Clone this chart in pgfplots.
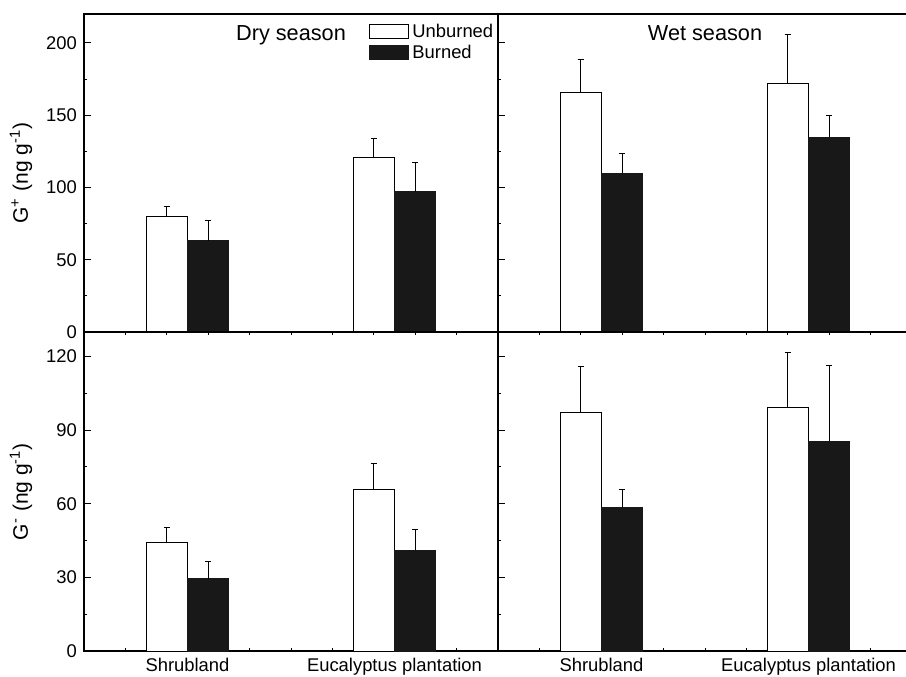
\documentclass[border=0pt]{standalone}
\usepackage{fontspec}
\setmainfont{Liberation Sans}
\usepackage{pgfplots}
\usepackage{pgfplotstable}
\pgfplotsset{compat=1.18}

% x: 2,3 = Shrubland (Unburned, Burned); 7,8 = Eucalyptus plantation
\pgfplotstableread{
x y e
2 80 7
7 121 13
}\dryGpU
\pgfplotstableread{
x y e
3 63 14
8 97 20
}\dryGpB
\pgfplotstableread{
x y e
2 165.6 22.6
7 171.6 34
}\wetGpU
\pgfplotstableread{
x y e
3 109.8 13.6
8 134.7 15
}\wetGpB
\pgfplotstableread{
x y e
2 44.2 6.1
7 66 10.5
}\dryGmU
\pgfplotstableread{
x y e
3 29.4 7.1
8 41 8.5
}\dryGmB
\pgfplotstableread{
x y e
2 97 19
7 99.4 22.2
}\wetGmU
\pgfplotstableread{
x y e
3 58.5 7.5
8 85.5 30.8
}\wetGmB

\definecolor{barblack}{HTML}{181818}

\pgfplotsset{
  panel/.style={
    scale only axis, width=207pt,
    xmin=0, xmax=10, ymin=0,
    xtick=\empty, minor xtick={0,...,10},
    major x tick style={draw=none},
    tick align=inside,
    ytick pos=left,
    minor y tick num=1,
    major tick length=3.5pt, minor tick length=1.6pt,
    axis line style={line width=0.55pt},
    tick style={black, line width=0.5pt},
    /pgf/number format/assume math mode=true,
    tick label style={font=\fontsize{9.2}{11}\selectfont},
    every axis y label/.style={at={(axis description cs:-0.108,0.5)}, rotate=90, anchor=south, font=\fontsize{10.5}{12}\selectfont},
    clip=false,
  },
  ubar/.style={ybar, bar width=1, bar shift=0pt, fill=white, draw=black, line width=0.5pt,
    error bars/.cd, y dir=plus, y explicit, error bar style={line width=0.5pt, black}, error mark options={rotate=90, mark size=1.6pt, line width=0.5pt, black}},
  bbar/.style={ybar, bar width=1, bar shift=0pt, fill=barblack, draw=barblack, line width=0.5pt,
    error bars/.cd, y dir=plus, y explicit, error bar style={line width=0.5pt, black}, error mark options={rotate=90, mark size=1.6pt, line width=0.5pt, black}},
}

\begin{document}
\begin{tikzpicture}
\path[use as bounding box] (0,0) rectangle (453pt,338pt);

% top-left: dry season, G+
\begin{axis}[panel, at={(42pt,172pt)}, anchor=south west, height=159pt,
  ymax=220, ytick={0,50,...,200},
  ylabel={G\textsuperscript{+} (ng g\textsuperscript{-1})},
  legend image code/.code={\draw[#1] (0pt,-3.5pt) rectangle (19.5pt,3.5pt);},
  legend style={draw=none, fill=none, at={(rel axis cs:0.6884,0.98)}, anchor=north west,
    inner sep=0pt, row sep=-0.7pt, font=\fontsize{9.2}{11}\selectfont,
    nodes={inner sep=1.5pt}},
  legend cell align=left]
\addlegendimage{fill=white, draw=black, line width=0.5pt}
\addlegendentry{Unburned}
\addlegendimage{fill=barblack, draw=barblack, line width=0.5pt}
\addlegendentry{Burned}
\addplot[ubar] table[x=x, y=y, y error=e] {\dryGpU};
\addplot[bbar] table[x=x, y=y, y error=e] {\dryGpB};
\node[anchor=base, font=\fontsize{10.85}{13}\selectfont] at (axis cs:5,202) {Dry season};
\end{axis}

% top-right: wet season, G+
\begin{axis}[panel, at={(249pt,172pt)}, anchor=south west, height=159pt,
  ymax=220, ytick={0,50,...,200}, yticklabels={}]
\addplot[ubar] table[x=x, y=y, y error=e] {\wetGpU};
\addplot[bbar] table[x=x, y=y, y error=e] {\wetGpB};
\node[anchor=base, font=\fontsize{10.85}{13}\selectfont] at (axis cs:5,202) {Wet season};
\end{axis}

% bottom-left: dry season, G-
\begin{axis}[panel, at={(42pt,12.5pt)}, anchor=south west, height=159.5pt,
  ymax=130, ytick={0,30,...,120},
  xtick={2.5,7.5}, xticklabels={Shrubland, Eucalyptus plantation},
  ylabel={G\textsuperscript{-} (ng g\textsuperscript{-1})}]
\addplot[ubar] table[x=x, y=y, y error=e] {\dryGmU};
\addplot[bbar] table[x=x, y=y, y error=e] {\dryGmB};
\end{axis}

% bottom-right: wet season, G-
\begin{axis}[panel, at={(249pt,12.5pt)}, anchor=south west, height=159.5pt,
  ymax=130, ytick={0,30,...,120}, yticklabels={},
  xtick={2.5,7.5}, xticklabels={Shrubland, Eucalyptus plantation}]
\addplot[ubar] table[x=x, y=y, y error=e] {\wetGmU};
\addplot[bbar] table[x=x, y=y, y error=e] {\wetGmB};
\end{axis}
\end{tikzpicture}
\end{document}
